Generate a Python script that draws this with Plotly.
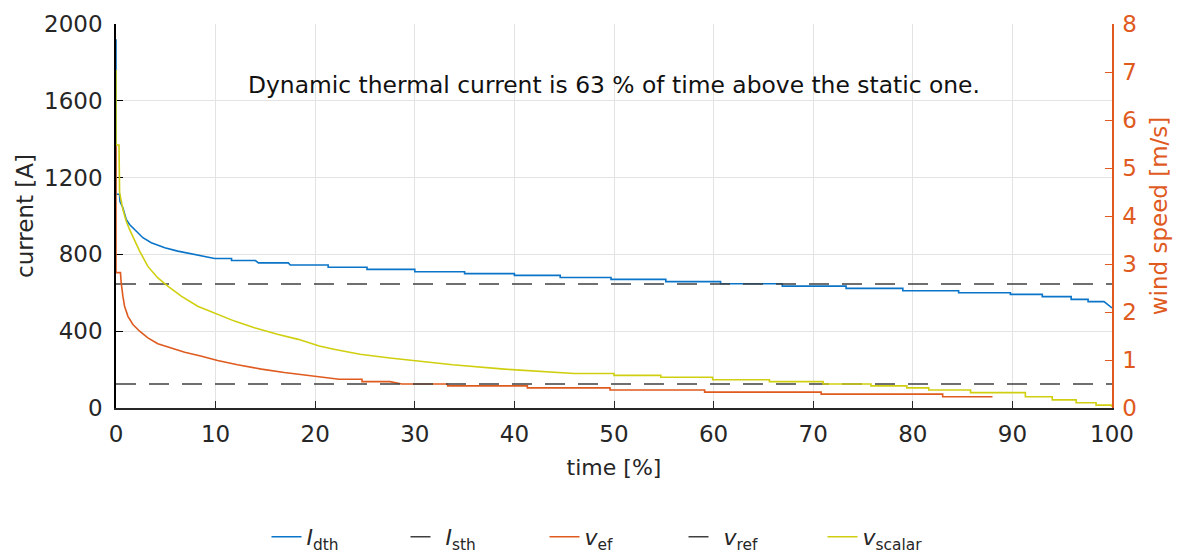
import plotly.graph_objects as go

# ---- data ----
t_dth = [0, 0, 0.35, 0.4, 0.69, 1.03, 1.36, 1.86, 2.7, 3.54, 4.9, 6.2, 7.9, 9.9, 11.6, 11.6, 14.0, 14.3, 17.3, 17.5,
         21.3, 21.3, 25.2, 25.2, 30, 30, 35, 35, 40, 40, 44.6, 44.6, 49.7, 49.7, 55.2, 55.2, 60.7, 60.7,
         66.9, 66.9, 73.3, 73.3, 79, 79, 84.6, 84.6, 89.8, 89.8, 93, 93, 95.9, 95.9, 97.6, 97.6, 99.2, 99.6, 100]
I_dth = [1920, 1113, 1113, 1075, 1043, 982, 956, 930, 887, 861, 835, 817, 800, 779, 779, 768, 768, 756, 756, 745,
         745, 733, 733, 722, 722, 710, 710, 700, 700, 691, 691, 680, 680, 670, 670, 658, 658, 647,
         647, 635, 635, 623, 623, 611, 611, 600, 600, 592, 592, 580, 580, 566, 566, 554, 554, 536, 521]

t_ef = [0, 0, 0.45, 0.52, 0.69, 0.86, 1.2, 1.7, 2.37, 3.2, 4.2, 5.5, 6.9, 8.6, 10.2, 12.2, 14.6, 16.9, 18.9,
        20.4, 22.4, 24.7, 24.7, 27.5, 28.7, 33.3, 33.3, 41.3, 41.3, 49.6, 49.6, 59.1, 59.1, 70.8, 70.8, 83, 83, 88]
v_ef = [5.48, 2.82, 2.82, 2.61, 2.33, 2.12, 1.91, 1.74, 1.60, 1.46, 1.34, 1.25, 1.16, 1.08, 0.99, 0.90, 0.81, 0.74, 0.69,
        0.64, 0.60, 0.60, 0.55, 0.55, 0.50, 0.50, 0.46, 0.46, 0.42, 0.42, 0.375, 0.375, 0.33, 0.33, 0.29, 0.29, 0.235, 0.235]

t_sc = [0, 0, 0.3, 0.36, 0.69, 1.03, 1.36, 1.86, 2.37, 3.2, 4.2, 5.2, 6.55, 8.2, 9.9, 11.9, 13.9, 16.3, 18.3, 19.6,
        20.4, 22, 24.5, 27.5, 29.8, 33.8, 39, 42.4, 46, 50, 50, 54.7, 54.7, 59.9, 59.9, 65.6, 65.6, 71, 71,
        75.8, 75.8, 79.4, 79.4, 81.6, 81.6, 85.8, 85.8, 91.3, 91.3, 94, 94, 96.4, 96.4, 98.4, 98.4, 100, 100]
v_sc = [7.04, 5.48, 5.48, 4.49, 4.14, 3.89, 3.72, 3.48, 3.27, 2.95, 2.71, 2.54, 2.33, 2.12, 1.98, 1.81, 1.67, 1.53, 1.43, 1.34,
        1.29, 1.22, 1.12, 1.04, 0.99, 0.90, 0.81, 0.77, 0.72, 0.72, 0.68, 0.68, 0.64, 0.64, 0.59, 0.59, 0.55, 0.55, 0.50,
        0.50, 0.46, 0.46, 0.42, 0.42, 0.375, 0.375, 0.32, 0.32, 0.235, 0.235, 0.17, 0.17, 0.11, 0.11, 0.06, 0.06, 0.02]

t_range = [0, 100]
I_sth = 646        # static thermal current [A]
v_ref = 0.5        # reference wind speed [m/s]

x_ticks = [0, 10, 20, 30, 40, 50, 60, 70, 80, 90, 100]
y_ticks = [0, 400, 800, 1200, 1600, 2000]
y2_ticks = [0, 1, 2, 3, 4, 5, 6, 7, 8]
note = "Dynamic thermal current is 63 % of time above the static one."

BLUE = "#0A74C8"
RED = "#DF5A1E"
YEL = "#CFCF10"
GREY = "#404040"
FONT = "DejaVu Sans, Verdana, sans-serif"

fig = go.Figure()
fig.add_trace(go.Scatter(x=t_dth, y=I_dth, mode="lines", name="<i>I</i><sub>dth</sub>",
                         line=dict(color=BLUE, width=1.6)))
fig.add_trace(go.Scatter(x=t_range, y=[I_sth, I_sth], mode="lines", name="<i>I</i><sub>sth</sub>",
                         line=dict(color=GREY, width=1.6, dash="20px,13px")))
fig.add_trace(go.Scatter(x=t_ef, y=v_ef, mode="lines", name="<i>v</i><sub>ef</sub>", yaxis="y2",
                         line=dict(color=RED, width=1.6)))
fig.add_trace(go.Scatter(x=t_range, y=[v_ref, v_ref], mode="lines", name="<i>v</i><sub>ref</sub>", yaxis="y2",
                         line=dict(color=GREY, width=1.6, dash="20px,13px")))
fig.add_trace(go.Scatter(x=t_sc, y=v_sc, mode="lines", name="<i>v</i><sub>scalar</sub>", yaxis="y2",
                         line=dict(color=YEL, width=1.6)))

fig.add_annotation(x=50, y=1680, xref="x", yref="y", text=note, showarrow=False,
                   font=dict(family=FONT, size=23.4, color="#111111"))

# the page body has an 8 px margin: the figure is sized so that it fits the window exactly
fig.update_layout(
    width=1173, height=551,
    margin=dict(l=108, r=69, t=16, b=151, autoexpand=False),
    paper_bgcolor="white", plot_bgcolor="white",
    font=dict(family=FONT, size=22, color="#262626"),
    showlegend=True,
    legend=dict(orientation="h", x=0.5, xanchor="center", y=-0.336, yanchor="middle",
                font=dict(size=22, color="#262626"), itemwidth=30, entrywidth=94,
                bgcolor="rgba(0,0,0,0)", tracegroupgap=0),
    xaxis=dict(range=[0, 100], tickvals=x_ticks, ticks="inside", ticklen=7, tickcolor="#262626",
               showline=True, linecolor="#262626", linewidth=1.5, showgrid=True, gridcolor="#E3E3E3",
               gridwidth=1, zeroline=False, automargin=False, ticklabelstandoff=5,
               title=dict(text="time [%]", standoff=13, font=dict(size=22)),
               tickfont=dict(size=23, color="#262626")),
    yaxis=dict(range=[0, 2000], tickvals=y_ticks, ticks="inside", ticklen=7, tickcolor="#000000",
               showline=True, linecolor="#000000", linewidth=1.5, showgrid=True, gridcolor="#E3E3E3",
               gridwidth=1, zeroline=False, automargin=False, ticklabelstandoff=7, layer="below traces",
               title=dict(text="current [A]", standoff=4, font=dict(size=23)),
               tickfont=dict(size=23, color="#262626")),
    yaxis2=dict(range=[0, 8], tickvals=y2_ticks, overlaying="y", side="right", ticks="inside", ticklen=7,
                tickcolor=RED, showline=True, linecolor=RED, linewidth=1.5, showgrid=False, zeroline=False,
                automargin=False, ticklabelstandoff=4,
                title=dict(text="wind speed [m/s]", font=dict(color=RED, size=23), standoff=15),
                tickfont=dict(size=23, color=RED)),
)

fig.write_html("out.html")
